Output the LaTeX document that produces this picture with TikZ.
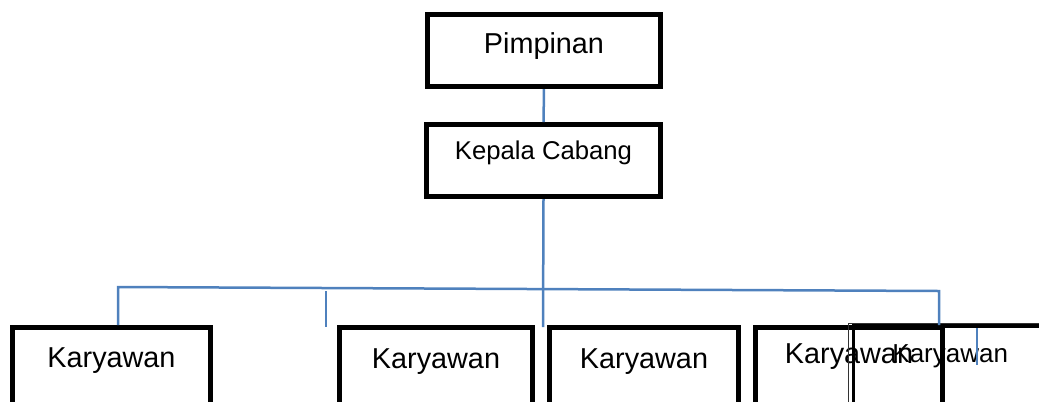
\documentclass[tikz,border=0pt]{standalone}
\usepackage{fontspec}
\setmainfont{Liberation Sans}
\definecolor{garisbiru}{RGB}{79,129,189}
\tikzset{
  kotak/.style={draw, line width=5bp, inner sep=0pt, minimum height=72bp, font=\fontsize{28.8bp}{30bp}\selectfont},
  bawah/.style={kotak, minimum height=80bp},
  garis/.style={draw=garisbiru, line width=2.5bp}
}
\begin{document}
\begin{tikzpicture}[x=1bp, y=-1bp]
\useasboundingbox (0,0) rectangle (1039,401);
\clip (0,0) rectangle (1039,401);
\node[kotak, minimum width=233bp, text height=20bp, text depth=15bp] (pim) at (544,50.5) {Pimpinan};
\node[kotak, minimum width=234bp, text height=18bp, text depth=21bp, font=\fontsize{25.7bp}{27bp}\selectfont] (kep) at (543.5,160.5) {Kepala Cabang};
\node[bawah, minimum width=198bp, text height=20bp, text depth=21bp] (kar1) at (111.5,367.5) {Karyawan};
\node[bawah, minimum width=193bp, text height=21bp, text depth=20bp] (kar2) at (436,367.5) {Karyawan};
\node[bawah, minimum width=189bp, text height=21bp, text depth=20bp] (kar3) at (644,367.5) {Karyawan};
\node[bawah, minimum width=187bp, text height=16bp, text depth=25bp] (kar4) at (849,367.5) {Karyawan};
\node[bawah, line width=3.5bp, minimum width=193.5bp, text height=16bp, text depth=23.5bp, font=\fontsize{26bp}{27bp}\selectfont] (kar5) at (950.25,365.75) {Karyawan};
\draw[line width=1bp, black!80] ([xshift=-3bp]kar5.south west) |- ([yshift=1bp]kar5.north east);
% garis penghubung
\coordinate (busL) at (118,287);
\coordinate (busR) at (939,291);
\coordinate (ujung) at (543,327);
\coordinate (tik1) at (326,291);
\coordinate (tik2) at (977,328);
\draw[garis] (pim) -- (kep);
\draw[garis] (kep.south) -- (ujung);
\draw[garis] (busL |- kar1.north) -- (busL) -- (busR) -- (busR |- kar4.north);
\draw[garis] (tik1) -- +(0,36);
\draw[garis] (tik2) -- +(0,37);
\end{tikzpicture}
\end{document}
